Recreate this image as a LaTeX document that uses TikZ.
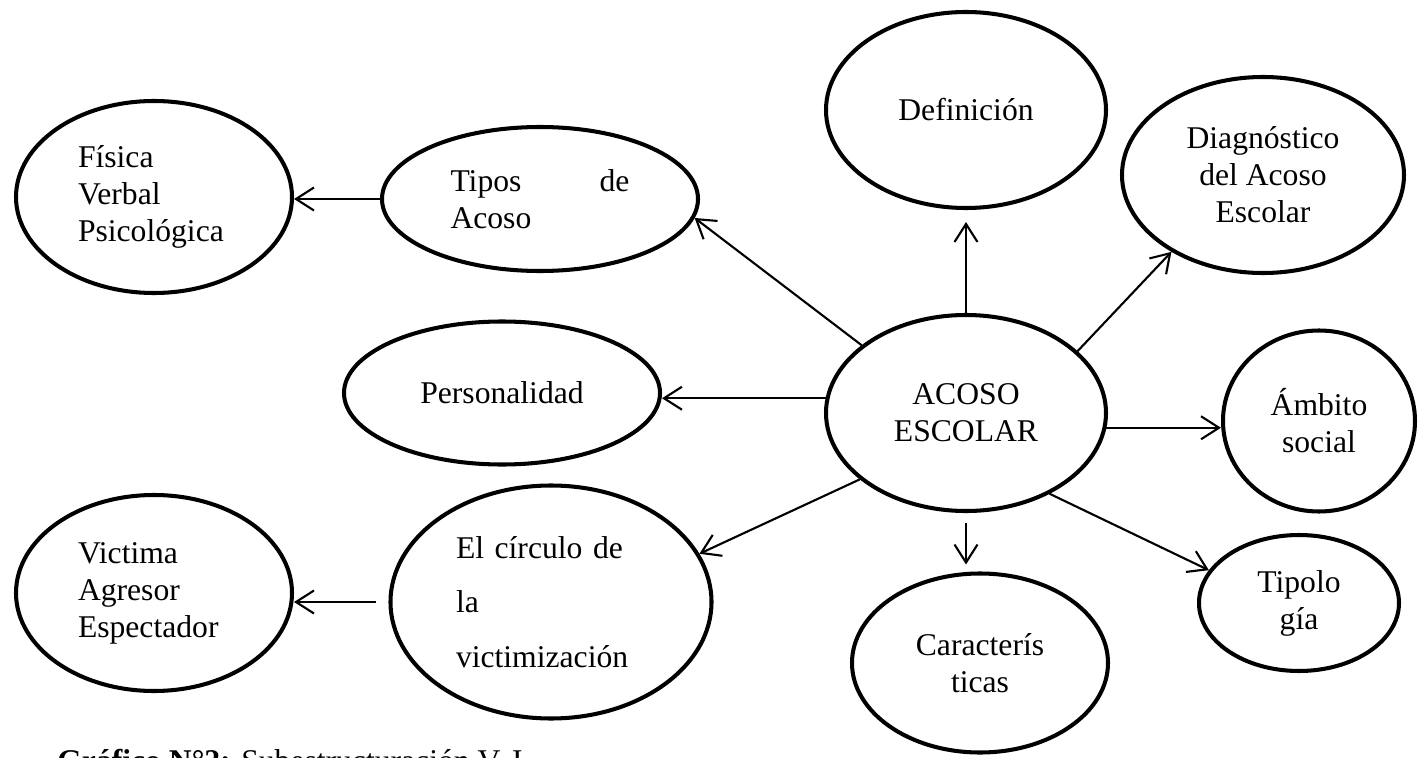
\documentclass[tikz,border=0pt]{standalone}
\usepackage{fontspec}
\setmainfont{Liberation Serif}
\usetikzlibrary{shapes.geometric,arrows.meta,positioning}

\begin{document}
\begin{tikzpicture}[
  burbuja/.style={ellipse, draw, line width=2.3pt, inner sep=0pt,
    font=\fontsize{18}{21}\selectfont},
  flecha/.style={line width=1.2pt, -{Straight Barb[length=3.6mm,width=4.6mm]}}
]
\useasboundingbox (0,0) rectangle (28.36,15.14);

\node[burbuja, minimum width=5.52cm, minimum height=3.84cm, text width=3.04cm, align=left] (fisica) at (3.08,11.20) {Física\\Verbal\\Psicológica};
\node[burbuja, minimum width=6.32cm, minimum height=2.88cm, text width=3.58cm, align=left] (tipos) at (10.80,11.16) {Tipos\hfill de\\Acoso};
\node[burbuja, minimum width=6.32cm, minimum height=2.86cm] (perso) at (10.04,7.28) {Personalidad};
\node[burbuja, minimum width=5.52cm, minimum height=3.92cm, text width=3.04cm, align=left] (victima) at (3.08,3.28) {Victima\\Agresor\\Espectador};
\node[burbuja, minimum width=6.42cm, minimum height=4.66cm, text width=3.8cm, align=left,
  font=\fontsize{18}{31}\selectfont] (circulo) at (11.02,3.10) {El círculo de\\la\\victimización};

\node[burbuja, minimum width=5.60cm, minimum height=3.92cm, align=center] (acoso) at (19.32,6.88) {ACOSO\\ESCOLAR};
\node[burbuja, minimum width=5.60cm, minimum height=3.92cm] (defin) at (19.32,12.94) {Definición};
\node[burbuja, minimum width=5.64cm, minimum height=3.92cm, align=center] (diag) at (25.26,11.64) {Diagnóstico\\del Acoso\\Escolar};
\node[burbuja, minimum width=3.84cm, minimum height=3.62cm, align=center] (ambito) at (26.38,6.72) {Ámbito\\social};
\node[burbuja, minimum width=5.12cm, minimum height=3.58cm, align=center] (caract) at (19.60,1.88) {Caracterís\\ticas};
\node[burbuja, minimum width=4.0cm, minimum height=2.72cm, align=center] (tipol) at (25.98,3.08) {Tipolo\\gía};

\draw[flecha] (acoso.147) -- (tipos.-7);
\draw[flecha, shorten >=0.24cm] (acoso.north) -- (defin.south);
\draw[flecha] (acoso.29) -- (diag.220);
\draw[flecha] (acoso.-6) -- (acoso.-6 -| ambito.west);
\draw[flecha] (acoso.-44) -- (tipol.160);
\draw[flecha, shorten <=0.2cm, shorten >=0.14cm] (acoso.south) -- (acoso.south |- caract.north);
\draw[flecha] (acoso.212) -- (circulo.18);
\draw[flecha] (acoso.174) -- (acoso.174 -| perso.east);

\draw[flecha] (tipos.west) -- (tipos.west -| fisica.east);
\draw[flecha, shorten <=0.24cm] (circulo.west) -- (circulo.west -| victima.east);

\node[anchor=base west, inner sep=0pt, font=\fontsize{18}{21}\selectfont] (grafico) at (1.14,-0.28) {\textbf{Gráfico N°2:} Subestructuración V. I.};

\end{tikzpicture}
\end{document}
